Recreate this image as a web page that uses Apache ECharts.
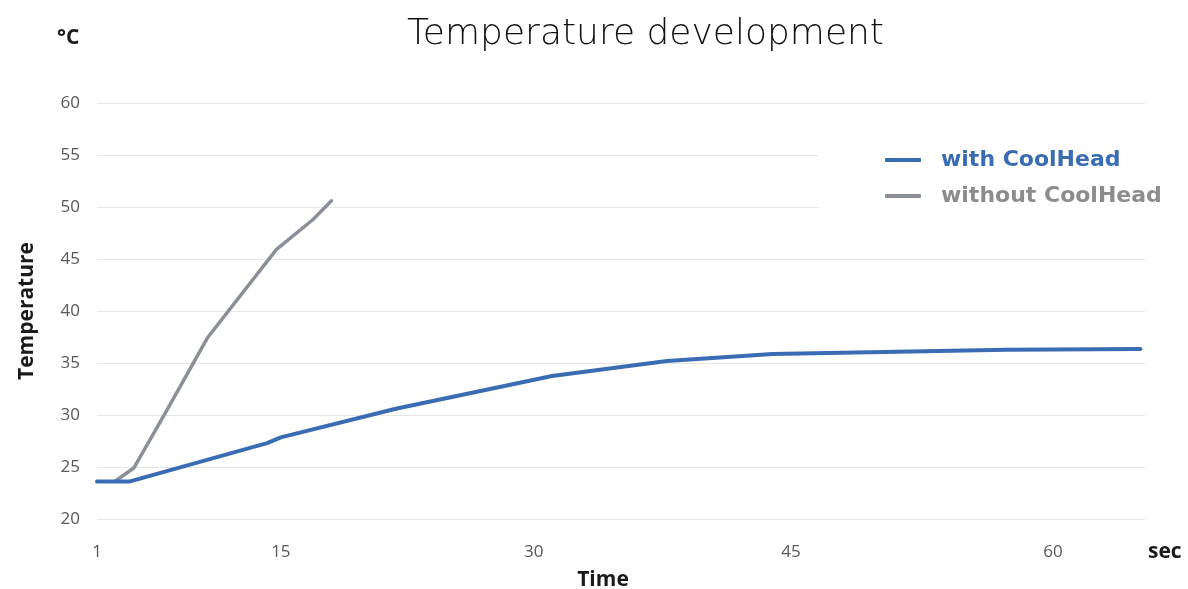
<!DOCTYPE html>
<html><head><meta charset="utf-8">
<script src="https://cdn.jsdelivr.net/npm/echarts@6/dist/echarts.min.js"></script>
<style>html,body{margin:0;padding:0;background:#fff}#c{width:1188px;height:589px}</style>
</head><body><div id="c"></div>
<script>
// x axis: evenly spaced sample slots; tick labels (seconds) sit at given slots
const xTickLabels = ['1', '15', '30', '45', '60'];
const xTickIndex = [0, 40, 95, 151, 208];
const slotCount = 229;
// [slot, °C]
const withCoolHead = [[0, 23.6], [7, 23.6], [37, 27.3], [40, 27.85], [65, 30.6], [99, 33.75], [124, 35.2], [147, 35.87], [198, 36.28], [227, 36.35]];
const withoutCoolHead = [[4, 23.65], [8, 24.9], [15, 30.3], [24, 37.4], [39, 45.9], [47, 48.8], [51, 50.6]];
const yMin = 20, yMax = 60, yStep = 5;

const slots = Array.from({length: slotCount}, (_, i) => String(i));
const BLUE = '#3a6cb4', GRAY = '#8b8f97';

const chart = echarts.init(document.getElementById('c'));
chart.setOption({
  animation: false,
  backgroundColor: '#fff',
  title: {
    text: 'Temperature development', left: 402, top: 12,
    textStyle: {fontFamily: 'DejaVu Sans', fontSize: 36, fontWeight: 200, color: '#111'}
  },
  grid: {left: 97, right: 43, top: 103, bottom: 70, outerBoundsMode: 'none', containLabel: false},
  legend: {
    orient: 'vertical', left: 818, top: 134,
    backgroundColor: '#fff',
    padding: [14, 14, 8, 67],
    icon: 'roundRect', itemWidth: 36, itemHeight: 4, itemGap: 12,
    textStyle: {fontFamily: 'DejaVu Sans', fontSize: 22, fontWeight: 'bold', lineHeight: 24, padding: [0, 0, 0, 15]},
    data: [
      {name: 'with CoolHead', textStyle: {color: BLUE}},
      {name: 'without CoolHead', textStyle: {color: '#8c8c8c'}}
    ]
  },
  xAxis: {
    type: 'category', data: slots, boundaryGap: false,
    axisLine: {show: false}, axisTick: {show: false}, splitLine: {show: false},
    axisLabel: {
      interval: (i) => xTickIndex.includes(i),
      formatter: (v, i) => xTickLabels[xTickIndex.indexOf(i)] || '',
      color: '#595959', fontFamily: 'Open Sans', fontSize: 17, margin: 25
    },
    name: 'Time', nameLocation: 'middle', nameGap: 51,
    nameTextStyle: {fontFamily: 'Open Sans', fontSize: 21, fontWeight: 'bold', color: '#1a1a1a', padding: [0, 36, 0, 0]}
  },
  yAxis: {
    type: 'value', min: yMin, max: yMax, interval: yStep,
    axisLine: {show: false}, axisTick: {show: false},
    splitLine: {lineStyle: {color: '#e6e6e6', width: 1}},
    axisLabel: {color: '#595959', fontFamily: 'Open Sans', fontSize: 17, margin: 17},
    name: 'Temperature', nameLocation: 'middle', nameGap: 59, nameRotate: 90,
    nameTextStyle: {fontFamily: 'Open Sans', fontSize: 21, fontWeight: 'bold', color: '#1a1a1a'}
  },
  graphic: [
    {type: 'text', left: 57, top: 28, style: {text: '°C', font: 'bold 21px "Open Sans"', fill: '#1a1a1a'}},
    {type: 'text', left: 1148, top: 542, style: {text: 'sec', font: 'bold 21px "Open Sans"', fill: '#1a1a1a'}}
  ],
  series: [
    {name: 'with CoolHead', type: 'line', data: withCoolHead, symbol: 'none', color: BLUE,
     lineStyle: {width: 4, color: BLUE, cap: 'round', join: 'round'}, z: 3},
    {name: 'without CoolHead', type: 'line', data: withoutCoolHead, symbol: 'none', color: GRAY,
     lineStyle: {width: 3.5, color: GRAY, cap: 'round', join: 'round'}, z: 2}
  ]
});
</script></body></html>
